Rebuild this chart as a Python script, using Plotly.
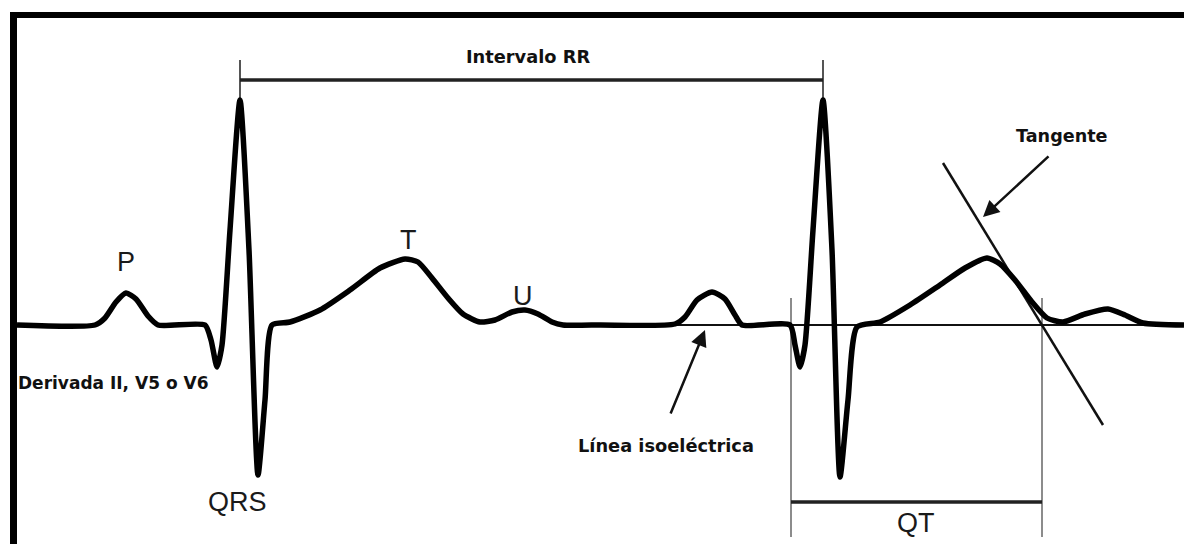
import plotly.graph_objects as go

# ECG trace (x: horizontal position, y: vertical position, both in image units; y grows downward)
ecg_x = [17, 95, 105, 116, 126, 136, 148, 158, 205, 211, 217, 222, 230, 240, 249, 258, 265, 272,
         290, 320, 350, 380, 405, 418, 432, 448, 463, 480, 495, 512, 525, 538, 552, 563, 600,
         675, 685, 697, 712, 725, 735, 742, 790,
         795, 800, 805, 813, 823, 832, 840, 848, 857, 880, 910, 940, 965, 987, 1000, 1015,
         1032, 1047, 1063, 1085, 1108, 1125, 1143, 1184]
ecg_y = [325, 325, 318, 302, 293, 299, 316, 325, 325, 340, 367, 345, 230, 100, 250, 475, 400, 325,
         322, 310, 290, 268, 259, 262, 278, 298, 314, 322, 320, 312, 310, 314, 322, 325, 325,
         324, 317, 300, 292, 299, 315, 325, 325,
         345, 367, 345, 230, 100, 250, 477, 400, 327, 322, 305, 285, 268, 258, 264, 280,
         302, 318, 322, 314, 309, 315, 323, 325]

# Reference marks
baseline_y = 325
r_peaks_x = [240, 823]
qt_x = [791, 1042]
tangent_x = [943, 1103]
tangent_y = [163, 425]

# Labels: (text, x, y)
wave_labels = [("P", 126, 262), ("QRS", 237, 502), ("T", 408, 240), ("U", 523, 296), ("QT", 916, 523)]
bold_labels = [("Intervalo RR", 528, 56, "center", 17.8), ("Tangente", 1062, 136, "center", 17.6),
               ("Línea isoeléctrica", 666, 445, "center", 17.8),
               ("Derivada II, V5 o V6", 16, 383, "left", 17)]

W, H = 1184, 544

fig = go.Figure()

# isoelectric line
fig.add_trace(go.Scatter(x=[560, W], y=[baseline_y, baseline_y], mode="lines",
                         line=dict(color="#111", width=2), hoverinfo="skip"))
# tangent
fig.add_trace(go.Scatter(x=tangent_x, y=tangent_y, mode="lines",
                         line=dict(color="#111", width=2.5), hoverinfo="skip"))
# ECG
fig.add_trace(go.Scatter(x=ecg_x, y=ecg_y, mode="lines",
                         line=dict(color="black", width=5.5, shape="spline", smoothing=0.6),
                         hoverinfo="skip"))

shapes = []
# frame
shapes.append(dict(type="line", x0=10, x1=W, y0=15, y1=15, line=dict(color="black", width=6)))
shapes.append(dict(type="line", x0=13.5, x1=13.5, y0=12, y1=H, line=dict(color="black", width=7)))
# RR interval
for xr in r_peaks_x:
    shapes.append(dict(type="line", x0=xr, x1=xr, y0=60, y1=100, line=dict(color="#555", width=2)))
shapes.append(dict(type="line", x0=r_peaks_x[0], x1=r_peaks_x[1], y0=80, y1=80,
                   line=dict(color="#222", width=3.5)))
# QT interval
for xq in qt_x:
    shapes.append(dict(type="line", x0=xq, x1=xq, y0=298, y1=537, line=dict(color="#666", width=1.5)))
shapes.append(dict(type="line", x0=qt_x[0], x1=qt_x[1], y0=502, y1=502,
                   line=dict(color="#222", width=3.5)))
for s in shapes:
    s.update(xref="x", yref="y", layer="below")

annotations = []
for t, x, y in wave_labels:
    annotations.append(dict(text=t, x=x, y=y, xref="x", yref="y", showarrow=False,
                            font=dict(family="Liberation Sans, Arial", size=27, color="#1a1a1a"),
                            xanchor="center", yanchor="middle"))
for t, x, y, anc, fs in bold_labels:
    annotations.append(dict(text="<b>" + t + "</b>", x=x, y=y, xref="x", yref="y", showarrow=False,
                            font=dict(family="DejaVu Sans", size=fs, color="#111"),
                            xanchor=anc, yanchor="middle"))
# arrows
annotations.append(dict(x=983, y=217, ax=1050, ay=155, xref="x", yref="y", axref="x", ayref="y",
                        text="", showarrow=True, arrowhead=2, arrowsize=1.3, arrowwidth=2.5,
                        arrowcolor="#111"))
annotations.append(dict(x=705, y=330, ax=670, ay=415, xref="x", yref="y", axref="x", ayref="y",
                        text="", showarrow=True, arrowhead=2, arrowsize=1.3, arrowwidth=2.5,
                        arrowcolor="#111"))

fig.update_layout(
    width=W, height=H, margin=dict(l=0, r=0, t=0, b=0),
    paper_bgcolor="white", plot_bgcolor="white", showlegend=False, hovermode=False,
    xaxis=dict(range=[0, W], visible=False, fixedrange=True),
    yaxis=dict(range=[H, 0], visible=False, fixedrange=True),
    shapes=shapes, annotations=annotations,
)

fig.write_html("out.html", config={"displayModeBar": False},
               post_script="document.body.style.margin='0';document.body.style.overflow='hidden';")
